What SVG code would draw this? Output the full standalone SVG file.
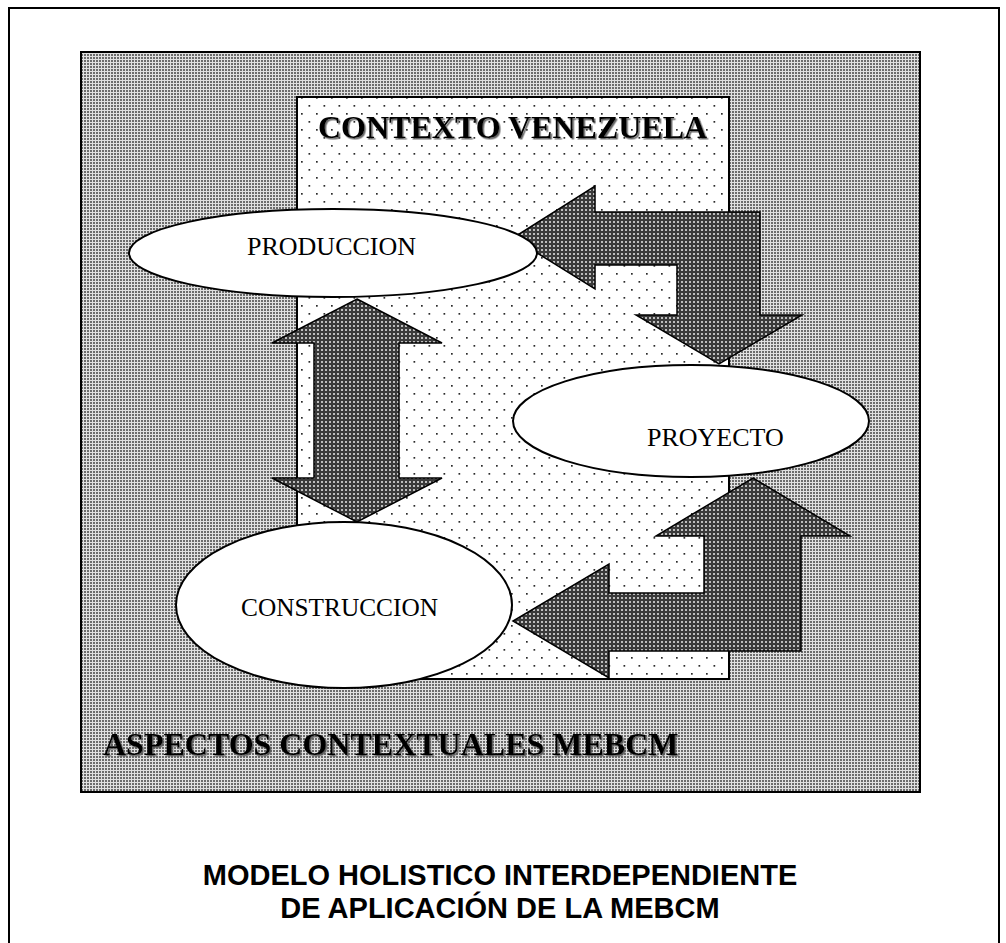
<svg xmlns="http://www.w3.org/2000/svg" width="1006" height="943" viewBox="0 0 1006 943">
<defs>
<pattern id="pGray" width="3" height="3" patternUnits="userSpaceOnUse">
<rect width="3" height="3" fill="#e0e0e0"/>
<rect width="2" height="2" fill="#6c6c6c"/>
</pattern>
<pattern id="pDots" width="15" height="16" patternUnits="userSpaceOnUse">
<rect width="15" height="16" fill="#ffffff"/>
<rect x="1" y="1" width="1.7" height="1.7" fill="#2a2a2a"/>
<rect x="8.5" y="9" width="1.7" height="1.7" fill="#2a2a2a"/>
</pattern>
<pattern id="pDark" width="4" height="4" patternUnits="userSpaceOnUse">
<rect width="4" height="4" fill="#3a3a3a"/>
<rect x="1" y="1" width="2" height="2" fill="#bdbdbd"/>
</pattern>
<filter id="shadow" x="-5%" y="-20%" width="110%" height="140%">
<feDropShadow dx="1.5" dy="1.5" stdDeviation="0.4" flood-color="#555555" flood-opacity="0.9"/>
</filter>
<style>
.arrow{fill:url(#pDark);stroke:#000;stroke-width:1.5;stroke-linejoin:miter}
.ell{fill:#fff;stroke:#000;stroke-width:2}
.lbl{font-family:"Liberation Serif","Times New Roman",serif;font-size:26px;fill:#000}
.big{font-family:"Liberation Serif","Times New Roman",serif;font-weight:bold;font-size:32px;fill:#000;filter:url(#shadow)}
.title{font-family:"Liberation Sans",Arial,sans-serif;font-weight:bold;font-size:29px;fill:#000;text-anchor:middle}
</style>
</defs>
<rect x="9" y="8" width="990" height="960" fill="#fff" stroke="#000" stroke-width="2"/>
<g id="aspectos">
<rect x="81" y="52" width="839" height="740" fill="url(#pGray)" stroke="#000" stroke-width="2"/>
<text class="big" x="103" y="755">ASPECTOS CONTEXTUALES MEBCM</text>
</g>
<g id="contexto">
<rect x="297" y="97" width="432" height="582" fill="url(#pDots)" stroke="#000" stroke-width="2"/>
<text class="big" x="318" y="138">CONTEXTO VENEZUELA</text>
</g>
<g id="connectors">
<polygon class="arrow" points="357,299 442,343 399,343 399,478 442,478 357,522 272,478 314,478 314,343 272,343"/>
<polygon class="arrow" points="513,238 595,186 595,212 760,212 760,315 802,315 719,364 636,315 677,315 677,265 595,265 595,289"/>
<polygon class="arrow" points="753,478 850,536 801,536 801,651 609,651 609,678 513,621 609,564 609,593 704,593 704,536 656,536"/>
</g>
<g id="produccion">
<ellipse class="ell" cx="333" cy="253" rx="204" ry="44"/>
<text class="lbl" x="247" y="255">PRODUCCION</text>
</g>
<g id="proyecto">
<ellipse class="ell" cx="691" cy="421" rx="178" ry="56"/>
<text class="lbl" x="647" y="446">PROYECTO</text>
</g>
<g id="construccion">
<ellipse class="ell" cx="344" cy="605" rx="168" ry="83"/>
<text class="lbl" x="241" y="616" textLength="197" lengthAdjust="spacingAndGlyphs">CONSTRUCCION</text>
</g>
<g id="caption">
<text class="title" x="500" y="885">MODELO HOLISTICO INTERDEPENDIENTE</text>
<text class="title" x="500" y="918">DE APLICACIÓN DE LA MEBCM</text>
</g>
</svg>
